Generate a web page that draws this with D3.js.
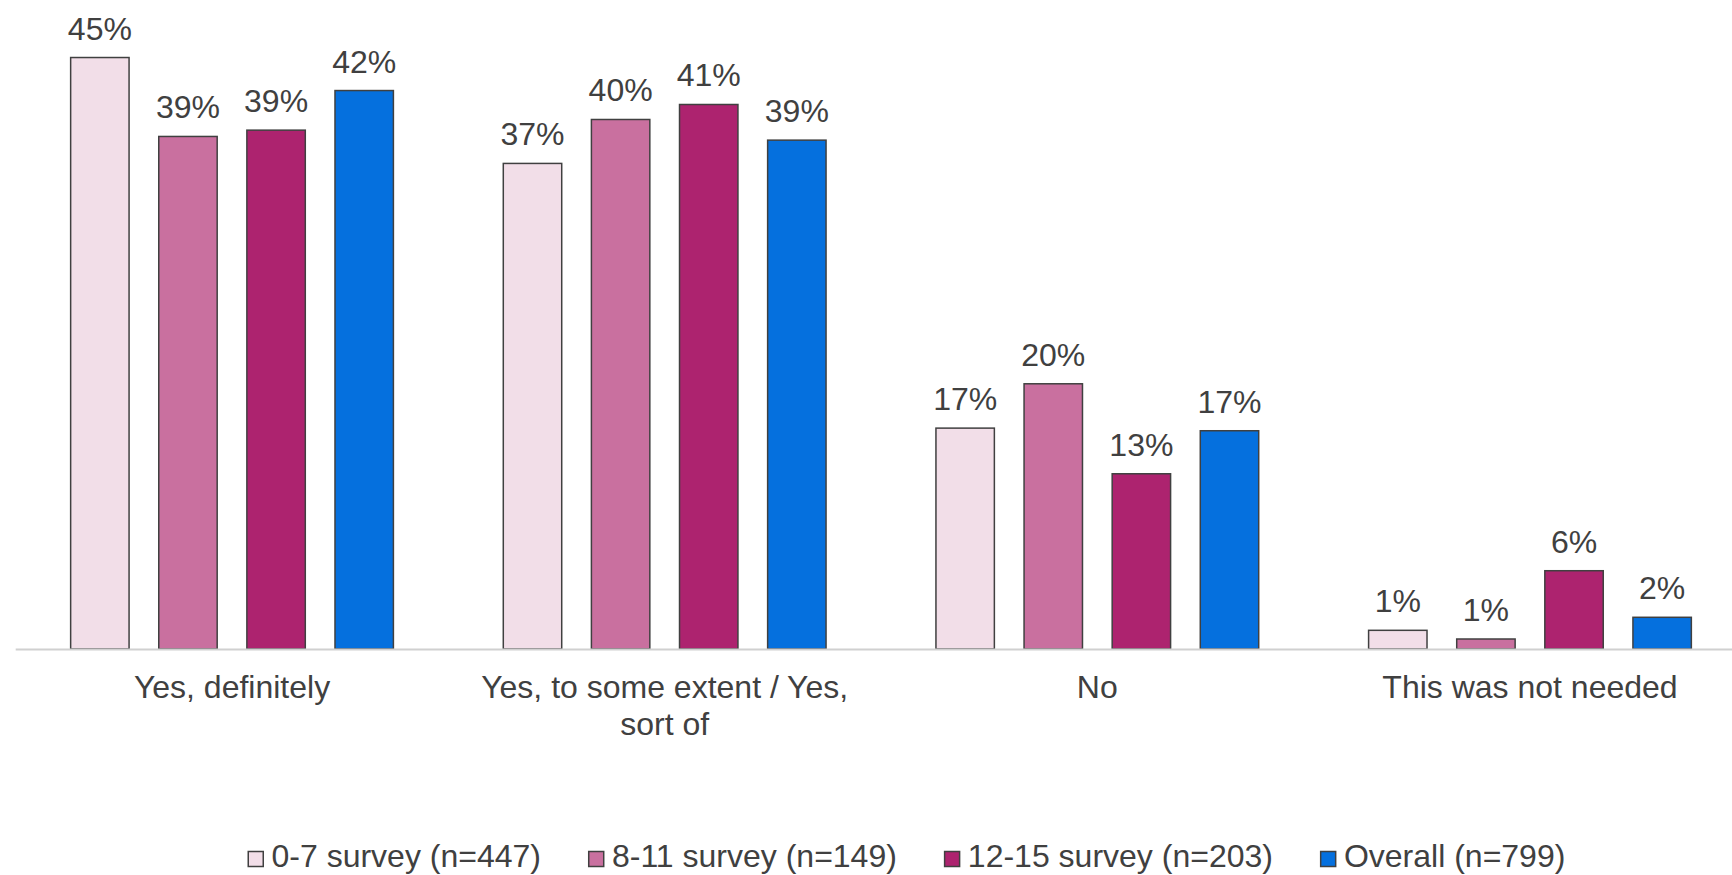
<!DOCTYPE html>
<html>
<head>
<meta charset="utf-8">
<script src="https://cdn.jsdelivr.net/npm/d3@7"></script>
<style>
  html, body { margin: 0; padding: 0; background: #ffffff; }
  svg { display: block; font-family: "Liberation Sans", Arial, sans-serif; }
</style>
</head>
<body>
<svg id="chart" width="1732" height="875"></svg>
<script>
// Answer categories along the x axis
const categories = [
  "Yes, definitely",
  "Yes, to some extent / Yes, sort of",
  "No",
  "This was not needed"
];

// Survey groups (legend entries)
const seriesNames = [
  "0-7 survey (n=447)",
  "8-11 survey (n=149)",
  "12-15 survey (n=203)",
  "Overall (n=799)"
];

// Share of respondents per category, one array per survey group
const survey0to7   = [0.4496, 0.3691, 0.1679, 0.0142];
const survey8to11  = [0.3896, 0.4025, 0.2016, 0.0076];
const survey12to15 = [0.3944, 0.4139, 0.1332, 0.0595];
const overall      = [0.4245, 0.3868, 0.1659, 0.0241];

const seriesValues = [survey0to7, survey8to11, survey12to15, overall];
const seriesColors = ["#f2dee8", "#c9709f", "#ad236f", "#0570de"];

const textColor = "#404040";
const fontSize = 32;

const svg = d3.select("#chart");

// Layout
const plotLeft = 15.7, plotRight = 1746.3;
const baseY = 649, topY = 57;

const x0 = d3.scaleBand()
  .domain(categories)
  .range([plotLeft, plotRight])
  .paddingInner(0.254)
  .paddingOuter(0.127);

const x1 = d3.scaleBand()
  .domain(seriesNames)
  .range([0, x0.bandwidth()])
  .paddingInner(0.337)
  .paddingOuter(0);

const y = d3.scaleLinear().domain([0, 0.45]).range([baseY, topY]);

const color = d3.scaleOrdinal().domain(seriesNames).range(seriesColors);
const fmt = d3.format(".0%");

// Flatten data for drawing
const data = [];
categories.forEach((c, ci) => {
  seriesNames.forEach((s, si) => {
    data.push({ category: c, series: s, value: seriesValues[si][ci] });
  });
});

// Bars
const groups = svg.append("g").selectAll("g")
  .data(categories)
  .join("g")
  .attr("transform", d => `translate(${x0(d)},0)`);

groups.selectAll("rect")
  .data(c => data.filter(d => d.category === c))
  .join("rect")
  .attr("x", d => x1(d.series))
  .attr("y", d => y(d.value))
  .attr("width", x1.bandwidth())
  .attr("height", d => y(0) - y(d.value))
  .attr("fill", d => color(d.series))
  .attr("stroke", textColor)
  .attr("stroke-width", 1.5);

// Value labels above bars
groups.selectAll("text.value")
  .data(c => data.filter(d => d.category === c))
  .join("text")
  .attr("class", "value")
  .attr("x", d => x1(d.series) + x1.bandwidth() / 2)
  .attr("y", d => y(d.value) - 18)
  .attr("text-anchor", "middle")
  .attr("fill", textColor)
  .attr("font-size", fontSize)
  .text(d => fmt(d.value));

// X axis baseline and category labels
const xAxis = d3.axisBottom(x0).tickSize(0).tickPadding(0);
const axisG = svg.append("g")
  .attr("transform", `translate(0,${baseY + 0.5})`)
  .call(xAxis);

axisG.select(".domain")
  .attr("stroke", "#d0d0d0")
  .attr("stroke-width", 2)
  .attr("d", `M${plotLeft},0H${plotRight}`);

axisG.selectAll(".tick text")
  .attr("fill", textColor)
  .attr("font-size", fontSize)
  .attr("font-family", "\"Liberation Sans\", Arial, sans-serif")
  .attr("dy", null)
  .attr("y", 48)
  .call(wrap, x0.step() * 0.95);

function wrap(sel, width) {
  sel.each(function () {
    const text = d3.select(this);
    const words = text.text().split(/\s+/);
    const yPos = text.attr("y");
    text.text(null);
    let line = [];
    let lineNo = 0;
    let tspan = text.append("tspan").attr("x", 0).attr("y", yPos);
    words.forEach(w => {
      line.push(w);
      tspan.text(line.join(" "));
      if (tspan.node().getComputedTextLength() > width && line.length > 1) {
        line.pop();
        tspan.text(line.join(" "));
        line = [w];
        lineNo++;
        tspan = text.append("tspan")
          .attr("x", 0)
          .attr("y", +yPos + lineNo * 37.3)
          .text(w);
      }
    });
  });
}

// Legend along the bottom
const legend = svg.append("g").attr("transform", "translate(247.5,867)");
let cursor = 0;
seriesNames.forEach(name => {
  const item = legend.append("g").attr("transform", `translate(${cursor},0)`);
  item.append("rect")
    .attr("x", 0.75)
    .attr("y", -15.5)
    .attr("width", 15)
    .attr("height", 15)
    .attr("fill", color(name))
    .attr("stroke", textColor)
    .attr("stroke-width", 1.5);
  const t = item.append("text")
    .attr("x", 24)
    .attr("y", 0)
    .attr("fill", textColor)
    .attr("font-size", fontSize)
    .text(name);
  cursor += 24 + t.node().getComputedTextLength() + 47;
});
</script>
</body>
</html>
